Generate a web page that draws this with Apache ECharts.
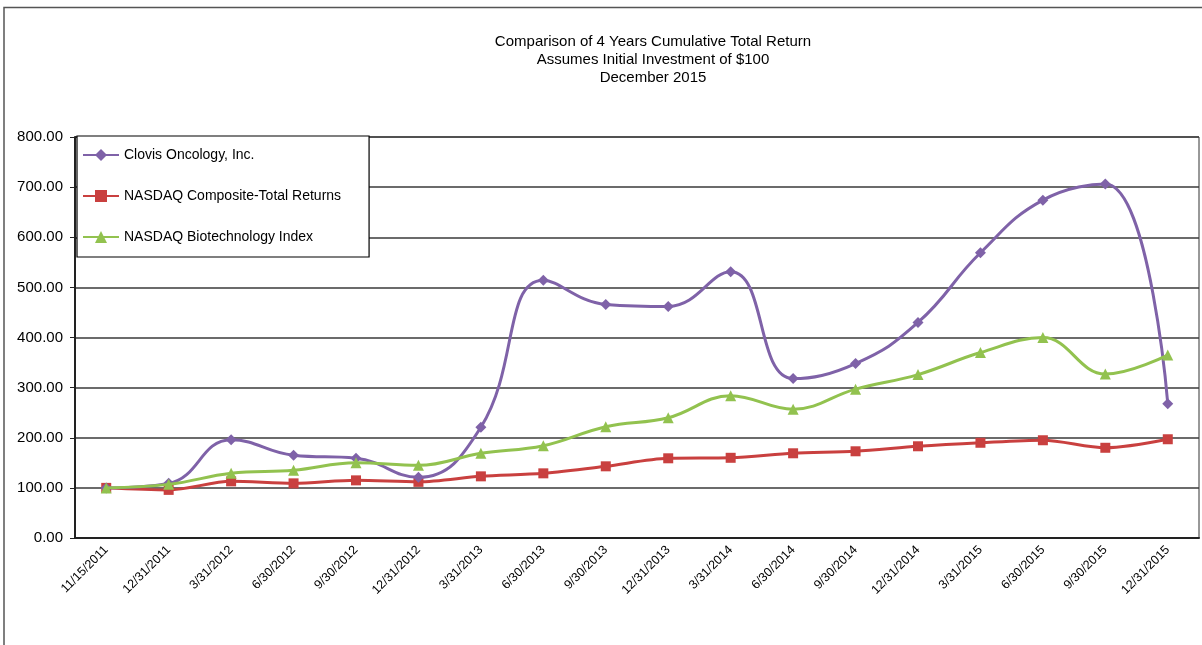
<!DOCTYPE html>
<html>
<head>
<meta charset="utf-8">
<script src="https://cdn.jsdelivr.net/npm/echarts@6/dist/echarts.min.js"></script>
<style>
html,body{margin:0;padding:0;background:#fff;}
#chart{width:1202px;height:645px;}
</style>
</head>
<body>
<div id="chart"></div>
<script>
var titleLines = ['Comparison of 4 Years Cumulative Total Return', 'Assumes Initial Investment of $100', 'December 2015'];
var categories = ['11/15/2011','12/31/2011','3/31/2012','6/30/2012','9/30/2012','12/31/2012','3/31/2013','6/30/2013','9/30/2013','12/31/2013','3/31/2014','6/30/2014','9/30/2014','12/31/2014','3/31/2015','6/30/2015','9/30/2015','12/31/2015'];
var seriesNames = ['Clovis Oncology, Inc.', 'NASDAQ Composite-Total Returns', 'NASDAQ Biotechnology Index'];
var clovis = [100, 109, 196, 165, 159, 121, 221, 514, 466, 462, 531, 318, 348, 430, 569, 674, 706, 268];
var nasdaq = [100, 96, 113, 109, 115, 112, 123, 129, 143, 159, 160, 169, 173, 183, 190, 195, 180, 197];
var biotech = [100, 107, 129, 135, 150, 145, 169, 184, 222, 240, 284, 257, 297, 326, 370, 400, 327, 365];
var yTicks = {min: 0, max: 800, interval: 100};

var FONT = 'Arial, "Liberation Sans", sans-serif';
var chart = echarts.init(document.getElementById('chart'));
chart.setOption({
  backgroundColor: '#fff',
  animation: false,
  title: {
    text: titleLines.join('\n'),
    left: 648,
    top: 28,
    textAlign: 'center',
    textStyle: {fontFamily: FONT, fontSize: 15, fontWeight: 'normal', color: '#000', lineHeight: 18}
  },
  graphic: [
    {type: 'polyline', shape: {points: [[4, 645], [4, 7.5], [1202, 7.5]]}, style: {stroke: '#555', lineWidth: 1.5, fill: null}, silent: true}
  ],
  legend: {
    orient: 'vertical',
    left: 77,
    top: 136,
    backgroundColor: '#fff',
    borderColor: '#000',
    borderWidth: 1.2,
    borderRadius: 0,
    padding: [12, 28, 13, 5],
    itemGap: 27,
    itemWidth: 36,
    itemHeight: 15,
    textStyle: {fontFamily: FONT, fontSize: 14, color: '#000'},
    data: seriesNames
  },
  grid: {left: 75, right: 3, top: 137, bottom: 107, show: true, borderColor: '#333', borderWidth: 1},
  xAxis: {
    type: 'category',
    data: categories,
    boundaryGap: true,
    axisLine: {lineStyle: {color: '#222', width: 2}},
    axisTick: {alignWithLabel: true, length: 5, lineStyle: {color: '#222'}},
    axisLabel: {rotate: 45, fontFamily: FONT, fontSize: 12.5, color: '#000', margin: 10, interval: 0}
  },
  yAxis: {
    type: 'value',
    min: yTicks.min,
    max: yTicks.max,
    interval: yTicks.interval,
    axisLine: {show: true, lineStyle: {color: '#222', width: 2}},
    axisTick: {show: true, length: 5, lineStyle: {color: '#222'}},
    axisLabel: {fontFamily: FONT, fontSize: 15, color: '#000', margin: 12, formatter: function (v) { return v.toFixed(2); }},
    splitLine: {lineStyle: {color: '#3a3a3a', width: 1.5}}
  },
  series: [
    {name: seriesNames[0], type: 'line', data: clovis, smooth: 0.45, symbol: 'diamond', symbolSize: 11,
     itemStyle: {color: '#7F62A8'}, lineStyle: {color: '#7F62A8', width: 3}, z: 4},
    {name: seriesNames[1], type: 'line', data: nasdaq, smooth: 0.3, symbol: 'rect', symbolSize: 10,
     itemStyle: {color: '#C9403F'}, lineStyle: {color: '#C9403F', width: 3}, z: 3},
    {name: seriesNames[2], type: 'line', data: biotech, smooth: 0.4, symbol: 'triangle', symbolSize: 11,
     itemStyle: {color: '#92C24F'}, lineStyle: {color: '#92C24F', width: 3}, z: 5}
  ]
});
</script>
</body>
</html>
